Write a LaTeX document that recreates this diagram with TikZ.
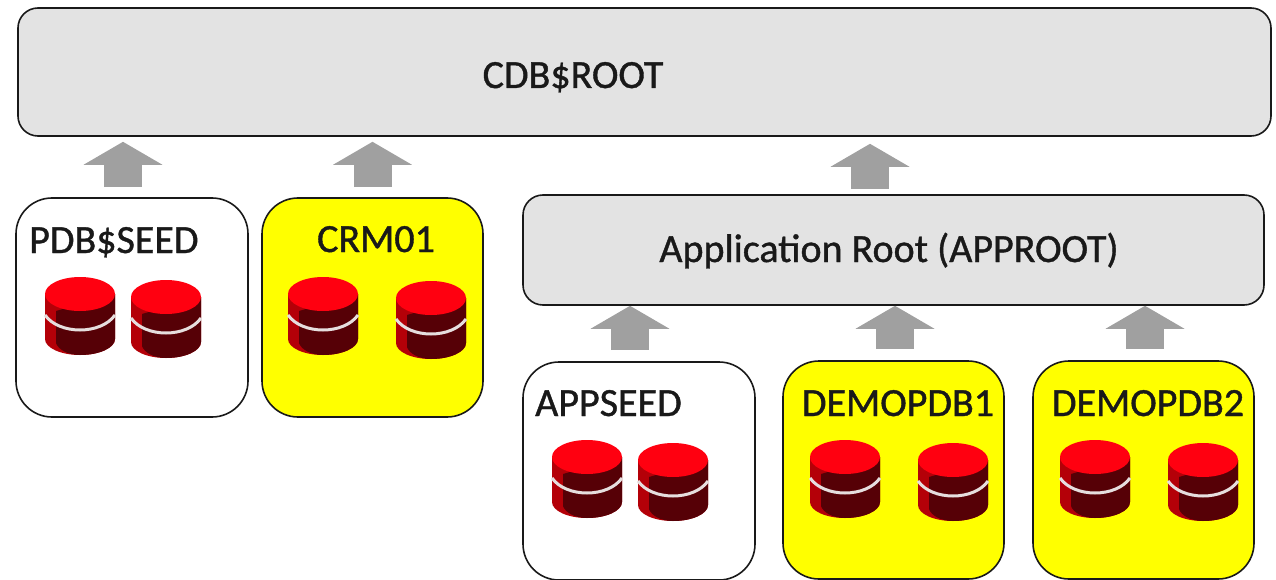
\documentclass[tikz,border=0pt]{standalone}
\usepackage{fontspec}
\setmainfont{Carlito}[FakeBold=1]
\usetikzlibrary{
    arrows.meta,
    calc,
    positioning
}
\definecolor{boxgray}{HTML}{E3E3E3}
\definecolor{flowgray}{HTML}{A0A0A0}
\definecolor{pdbyellow}{RGB}{255,255,0}
\definecolor{disktop}{HTML}{FF0010}
\definecolor{diskside}{HTML}{B40008}
\definecolor{diskdark}{HTML}{560006}
\definecolor{diskband}{HTML}{E6DEDE}
\tikzset{
    pdbbox/.style={draw=black!90, line width=1.6pt, rounded corners=36pt, inner sep=0pt},
    rootbox/.style={draw=black!90, line width=1.6pt, rounded corners=20pt, inner sep=0pt, fill=boxgray},
    title/.style={inner sep=0pt, anchor=base, text=black!90, font=\fontsize{40}{44}\selectfont},
    flow/.style={draw=flowgray, line width=38pt, -{Triangle[width=78pt, length=23pt]}},
    disk/.pic={
        \fill[diskside] (0,17) -- (0,62) .. controls (0,70.8) and (15.7,78) .. (35,78) .. controls (54.3,78) and (70,70.8) .. (70,62) -- (70,17) -- cycle;
        \fill[diskdark] (11,34) -- (11,66) .. controls (13,72) and (22,78) .. (35,78) .. controls (54.3,78) and (70,70.8) .. (70,62) -- (70,17) -- cycle;
        \draw[diskband, line width=3pt] (0,38) .. controls (14,58) and (56,58) .. (70,38);
        \fill[disktop] (35,17) ellipse[x radius=35, y radius=17];
    }
}
\begin{document}
\begin{tikzpicture}[x=1pt, y=-1pt]
    \useasboundingbox (0,0) rectangle (1276,580);
    \node[rootbox, minimum width=1253pt, minimum height=128pt] (cdbroot) at (644.5,72) {};
    \node[pdbbox, fill=white, minimum width=232pt, minimum height=219pt] (pdbseed) at (132,307.5) {};
    \node[pdbbox, fill=pdbyellow, minimum width=221pt, minimum height=219pt] (crm01) at (372.5,307.5) {};
    \node[rootbox, minimum width=741pt, minimum height=110pt] (approot) at (893.5,250) {};
    \node[pdbbox, fill=white, minimum width=232pt, minimum height=218pt] (appseed) at (639,471) {};
    \node[pdbbox, fill=pdbyellow, minimum width=221pt, minimum height=218pt] (demopdb1) at (893.5,470) {};
    \node[pdbbox, fill=pdbyellow, minimum width=221pt, minimum height=218pt] (demopdb2) at (1143.5,470) {};
    \node[title] (cdbrootlabel) at (573,88) {CDB\$ROOT};
    \node[title, anchor=base west] (pdbseedlabel) at (29,253) {PDB\$SEED};
    \node[title] (crm01label) at (376,252) {CRM01};
    \node[title] (approotlabel) at (889,262) {Application Root (APPROOT)};
    \node[title, anchor=base west] (appseedlabel) at (535,416) {APPSEED};
    \node[title] (demopdb1label) at (898,416) {DEMOPDB1};
    \node[title] (demopdb2label) at (1148,416) {DEMOPDB2};
    \draw[flow, shorten <=10pt, shorten >=5pt] ([xshift=-9]pdbseed.north) -- ([xshift=-9]pdbseed.north |- cdbroot.south);
    \draw[flow, shorten <=10pt, shorten >=5pt] (crm01.north) -- (crm01.north |- cdbroot.south);
    \draw[flow, shorten <=5pt, shorten >=7pt] ([xshift=-23.5]approot.north) -- ([xshift=-23.5]approot.north |- cdbroot.south);
    \draw[flow, shorten <=11pt, shorten >=0pt] ([xshift=-9]appseed.north) -- ([xshift=-9]appseed.north |- approot.south);
    \draw[flow, shorten <=11pt, shorten >=0pt] ([xshift=1.5]demopdb1.north) -- ([xshift=1.5]demopdb1.north |- approot.south);
    \draw[flow, shorten <=11pt, shorten >=0pt] ([xshift=1.5]demopdb2.north) -- ([xshift=1.5]demopdb2.north |- approot.south);
    \pic at (45,277) {disk};
    \pic at (131,280) {disk};
    \pic at (288,277) {disk};
    \pic at (396,281) {disk};
    \pic at (552,440) {disk};
    \pic at (638,443) {disk};
    \pic at (810,440) {disk};
    \pic at (918,443) {disk};
    \pic at (1060,440) {disk};
    \pic at (1168,443) {disk};
\end{tikzpicture}
\end{document}
